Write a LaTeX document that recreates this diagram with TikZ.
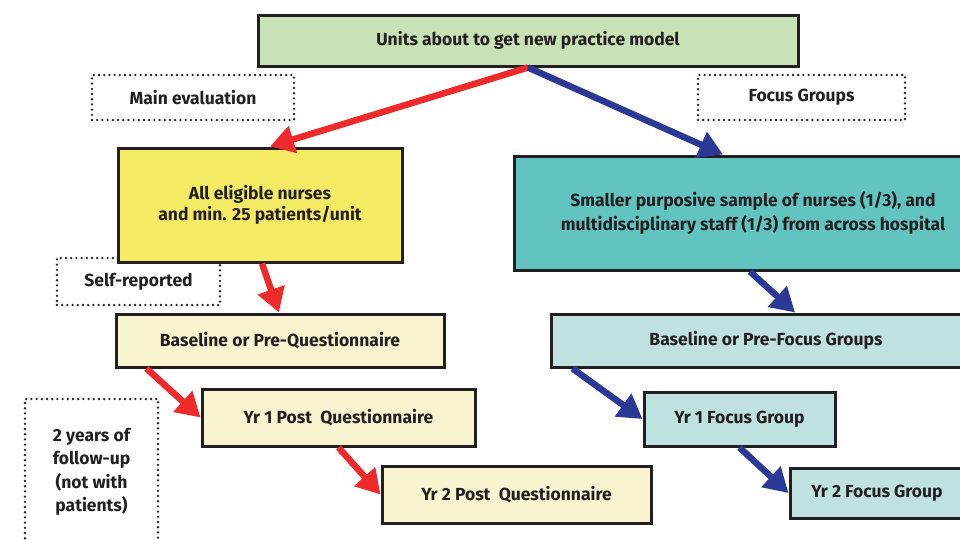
\documentclass[tikz,border=0pt]{standalone}
\usepackage{fontspec}
\setmainfont{Fira Sans}
\usepackage{xcolor}
\usetikzlibrary{arrows.meta, positioning}

\definecolor{inkdark}{HTML}{231F20}
\definecolor{arrowred}{HTML}{EE2A2A}
\definecolor{arrowblue}{HTML}{2B3896}
\definecolor{unitgreen}{HTML}{C8E2B8}
\definecolor{mainyellow}{HTML}{F5EA64}
\definecolor{paleyellow}{HTML}{F8F4D0}
\definecolor{mainteal}{HTML}{62C4C0}
\definecolor{paleteal}{HTML}{BFE2E0}

\begin{document}
\begin{tikzpicture}[
            x=1pt,
            y=-1pt,
            every node/.style={
                    font=\fontsize{17.5}{23.5}\selectfont\bfseries,
                    text=inkdark,
                    align=center,
                    inner sep=0pt
                },
            stage box/.style={
                    draw=inkdark,
                    line width=3pt
                },
            note box/.style={
                    draw=inkdark,
                    line width=2.6pt,
                    line cap=round,
                    dash pattern=on 0pt off 5.2pt
                },
            red arrow/.style={
                    draw=arrowred,
                    line width=6.5pt,
                    -{Triangle[length=24pt,width=27pt]}
                },
            blue arrow/.style={
                    draw=arrowblue,
                    line width=6.5pt,
                    -{Triangle[length=24pt,width=27pt]}
                }
        ]

        \useasboundingbox (0,0) rectangle (960,539);

        % Top box
        \node[stage box, fill=unitgreen, minimum width=540pt, minimum height=51pt] (units) at (528, 40.5) {Units about to get new practice model};

        % Notes
        \node[note box, minimum width=202pt, minimum height=45pt] (maineval) at (193, 97.5) {Main evaluation};
        \node[note box, minimum width=207pt, minimum height=45pt] (focusnote) at (801.5, 97.5) {Focus Groups};
        \node[note box, minimum width=163pt, minimum height=47pt] (selfrep) at (138.5, 281.5) {Self-reported};
        \node[note box, minimum width=133pt, minimum height=146pt] (followup) at (91.5, 472) {2 years of\\follow-up\\(not with\\patients)};

        % Questionnaire branch
        \node[stage box, fill=mainyellow, minimum width=284pt, minimum height=114pt] (eligible) at (260, 205) {All eligible nurses\\[-3pt]and min. 25 patients/unit};
        \node[stage box, fill=paleyellow, minimum width=328pt, minimum height=53pt] (baseq) at (280, 340.5) {Baseline or Pre-Questionnaire};
        \node[stage box, fill=paleyellow, minimum width=273pt, minimum height=57pt] (yrone-q) at (338.5, 417.5) {Yr 1 Post\ \ Questionnaire};
        \node[stage box, fill=paleyellow, minimum width=269pt, minimum height=57pt] (yrtwo-q) at (516.5, 494.5) {Yr 2 Post\ \ Questionnaire};

        % Focus group branch
        \node[stage box, fill=mainteal, minimum width=478pt, minimum height=114pt] (sample) at (753, 213) {Smaller purposive sample of nurses (1/3), and\\multidisciplinary staff (1/3) from across hospital};
        \node[stage box, fill=paleteal, minimum width=430pt, minimum height=53pt] (basefg) at (766, 340.5) {Baseline or Pre-Focus Groups};
        \node[stage box, fill=paleteal, minimum width=191pt, minimum height=54pt] (yrone-fg) at (739.5, 419) {Yr 1 Focus Group};
        \node[stage box, fill=paleteal, minimum width=174pt, minimum height=50pt] (yrtwo-fg) at (877, 493) {Yr 2 Focus Group};

        % Connections
        \draw[red arrow] (units.south) -- ([xshift=10pt]eligible.north);
        \draw[blue arrow] (units.south) -- ([xshift=-30pt]sample.north);

        \draw[red arrow] ([xshift=2pt]eligible.south) -- ([xshift=-1pt]baseq.north);
        \draw[red arrow] ([xshift=32pt]baseq.south west) -- (yrone-q.west);
        \draw[red arrow] (yrone-q.south) -- (yrtwo-q.west);

        \draw[blue arrow] ([xshift=-3pt]sample.south) -- ([xshift=29pt]basefg.north);
        \draw[blue arrow] ([xshift=23pt]basefg.south west) -- (yrone-fg.west);
        \draw[blue arrow] (yrone-fg.south) -- (yrtwo-fg.west);

    \end{tikzpicture}
\end{document}
